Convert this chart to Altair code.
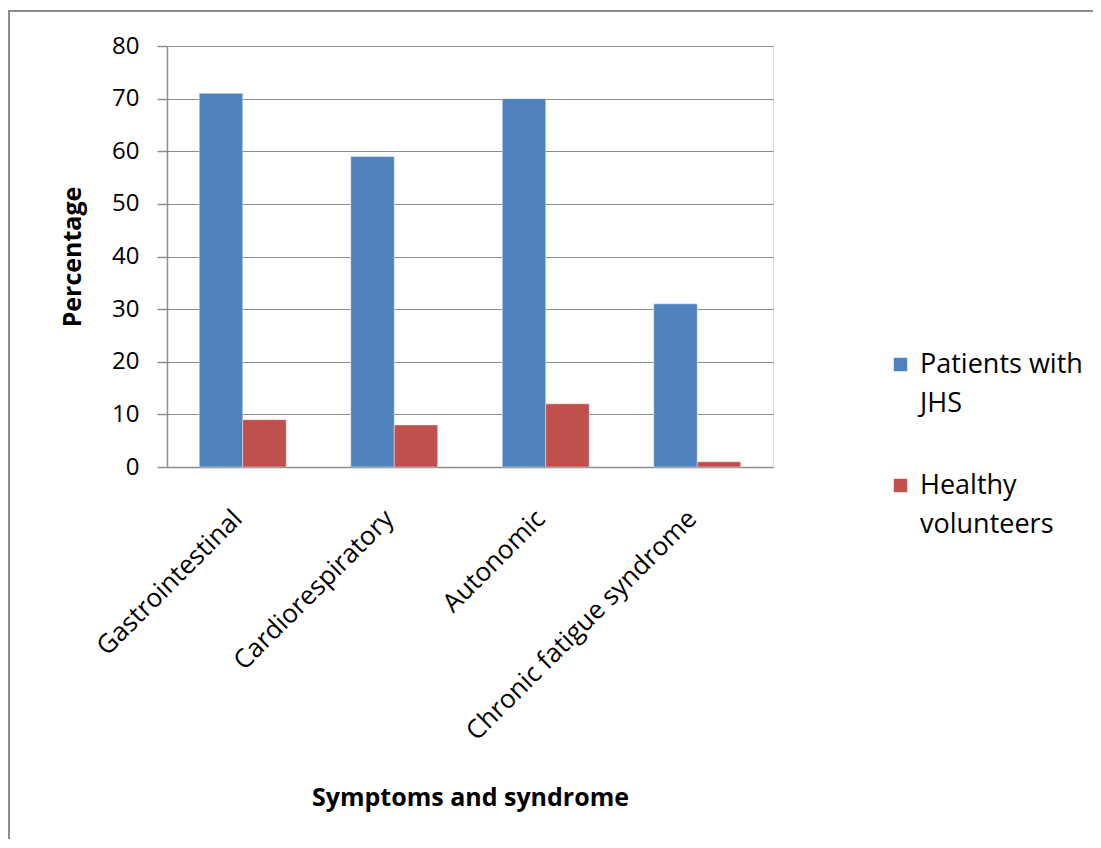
import altair as alt
import pandas as pd

categories = ["Gastrointestinal", "Cardiorespiratory", "Autonomic", "Chronic fatigue syndrome"]
series = ["Patients with JHS", "Healthy volunteers"]
patients = [71, 59, 70, 31]
healthy = [9, 8, 12, 1]
y_ticks = [0, 10, 20, 30, 40, 50, 60, 70, 80]
colors = ["#4F81BD", "#C0504D"]

rows = []
for c, p, h in zip(categories, patients, healthy):
    rows.append({"cat": c, "series": series[0], "value": p})
    rows.append({"cat": c, "series": series[1], "value": h})
df = pd.DataFrame(rows)

FONT = "Open Sans"

bars = alt.Chart(df).mark_bar(stroke="#ffffff", strokeWidth=0.6, strokeOpacity=0.7).encode(
    x=alt.X("cat:N", sort=categories, title="Symptoms and syndrome",
            scale=alt.Scale(paddingInner=0.426, paddingOuter=0.213),
            axis=alt.Axis(labelAngle=-45, labelFontSize=26, labelFont=FONT, labelColor="#000000",
                          ticks=False, labelPadding=38, labelOffset=-14,
                          domainColor="#8c8c8c", domainWidth=1.5,
                          titleFont=FONT, titleFontSize=25, titleFontWeight="bold", titleColor="#000000",
                          titlePadding=118, labelLimit=500)),
    xOffset=alt.XOffset("series:N", sort=series),
    y=alt.Y("value:Q", title="Percentage",
            scale=alt.Scale(domain=[0, 80]),
            axis=alt.Axis(values=y_ticks, labelFontSize=24, labelFont=FONT, labelColor="#000000",
                          tickSize=10, tickColor="#8c8c8c", tickWidth=1.5, labelPadding=18,
                          domainColor="#8c8c8c", domainWidth=1.5,
                          gridColor="#8c8c8c", gridWidth=1.2,
                          titleFont=FONT, titleFontSize=25, titleFontWeight="bold", titleColor="#000000",
                          titlePadding=26)),
    color=alt.Color("series:N", sort=series,
                    scale=alt.Scale(domain=series, range=colors),
                    legend=alt.Legend(title=None, orient="none", legendX=720, legendY=305,
                                      labelFont=FONT, labelFontSize=27, labelColor="#000000",
                                      symbolType="square", symbolSize=180, symbolStrokeWidth=0,
                                      labelOffset=6, rowPadding=54, labelLimit=300,
                                      labelExpr="datum.label == 'Patients with JHS' ? ['Patients with', 'JHS'] : ['Healthy', 'volunteers']")),
)

frame = alt.Chart(df).mark_rect(fill=None, stroke="#8c8c8c", strokeWidth=2).encode(
    x=alt.value(-158), x2=alt.value(1200), y=alt.value(-35), y2=alt.value(1000)
)

chart = alt.layer(frame, bars).properties(
    width=606, height=421,
    autosize=alt.AutoSizeParams(type="none"),
    padding={"left": 159, "top": 38, "right": 320, "bottom": 372},
).configure_view(stroke=None).configure(
    style={"guide-label": {"lineHeight": 39}}
)

chart.save("out.html", embed_options={"renderer": "svg", "actions": False})
